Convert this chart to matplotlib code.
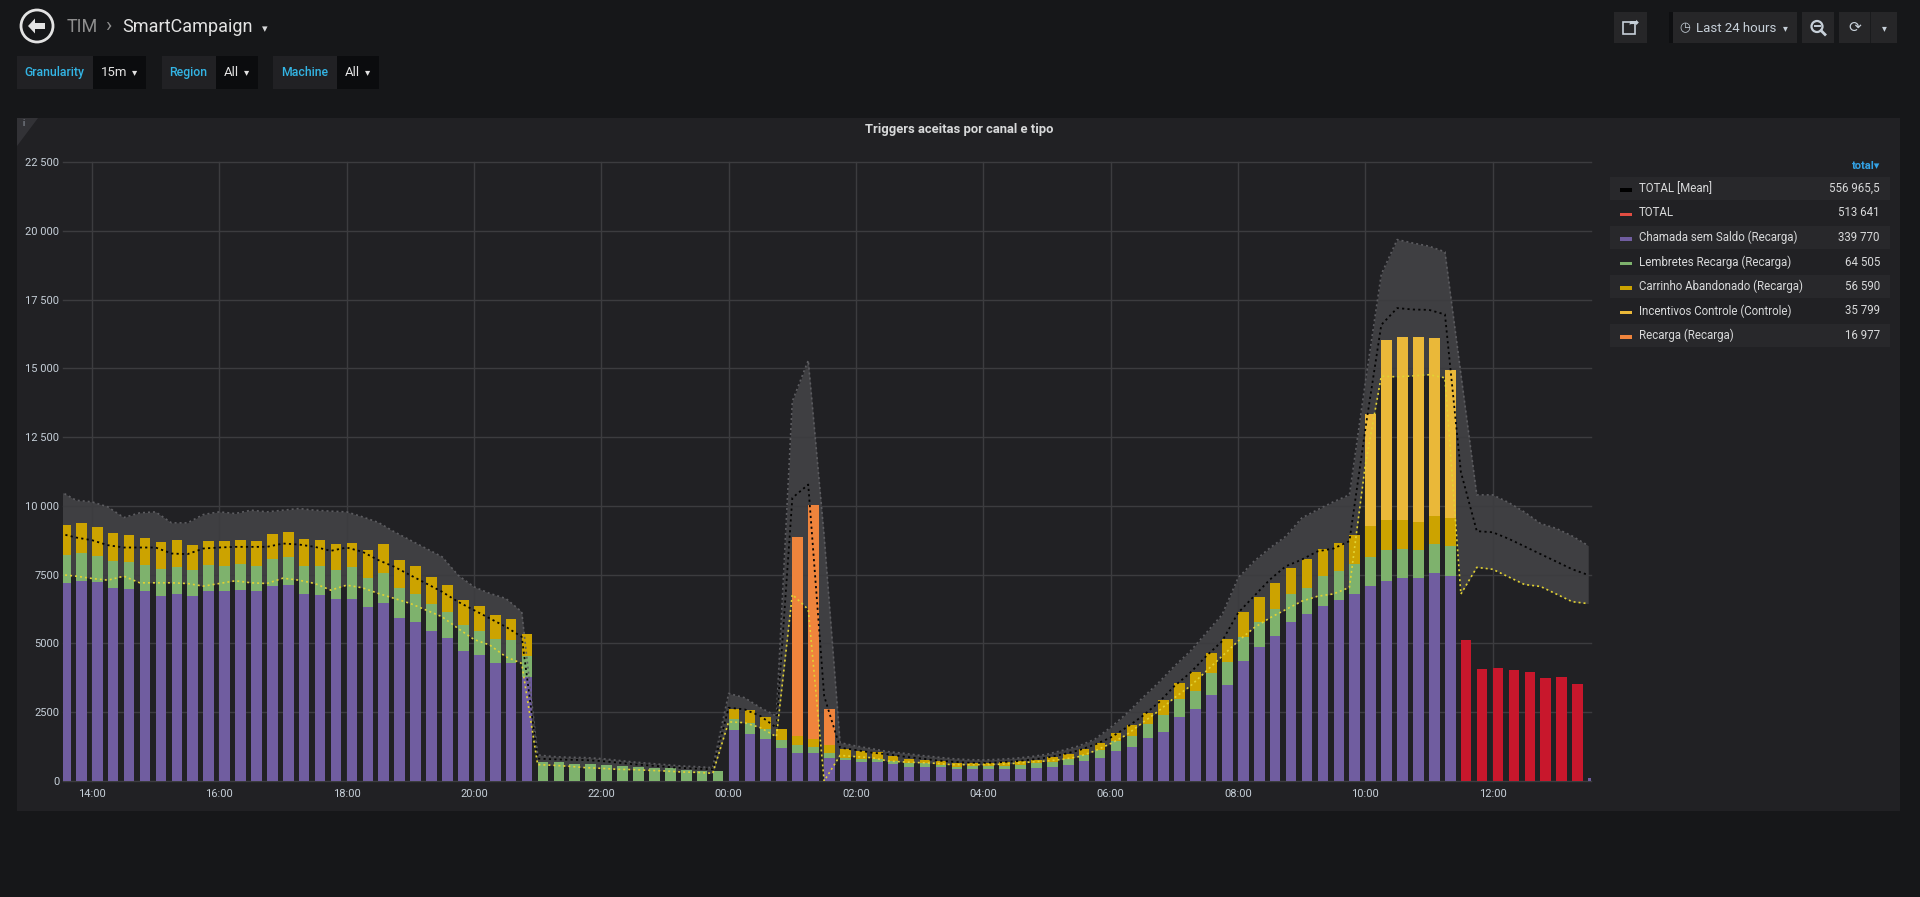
import numpy as np
import matplotlib
matplotlib.use("Agg")
import matplotlib.pyplot as plt
from matplotlib.patches import Rectangle, Polygon, Circle

plt.rcParams['font.family'] = ['Roboto', 'DejaVu Sans']

W, H = 1920, 897

# 15 minute buckets, first one at 13:30 (hours counted from midnight of day 1)
start_hour = 13.5
step = 0.25

chamada = [
    7179, 7276, 7216, 6998, 6974, 6913, 6707, 6792, 6731, 6889,
    6913, 6949, 6901, 7083, 7119, 6792, 6756, 6610, 6610, 6308,
    6465, 5920, 5775, 5436, 5194, 4722, 4564, 4286, 4286, 3765,
    0, 0, 0, 0, 0, 0, 0, 0, 0, 0,
    0, 0, 1852, 1719, 1513, 1186, 1029, 1017, 835, 763,
    690, 702, 630, 510, 510, 498, 425, 449, 425, 425,
    449, 473, 522, 595, 716, 825, 1085, 1240, 1561, 1791,
    2323, 2602, 3122, 3485, 4344, 4864, 5288, 5772, 6074, 6377,
    6565, 6810, 7099, 7280, 7391, 7391, 7557, 7446, 0, 0,
    0, 0, 0, 0, 0, 0, 100]
lembretes = [
    1042, 1005, 980, 993, 992, 944, 981, 969, 921, 968,
    920, 933, 932, 980, 1017, 1029, 1041, 1042, 1151, 1053,
    1102, 1102, 1029, 981, 956, 944, 872, 872, 823, 787,
    692, 680, 607, 631, 595, 546, 522, 473, 473, 388,
    352, 352, 385, 375, 364, 303, 279, 230, 194, 84,
    97, 85, 100, 133, 133, 97, 97, 97, 121, 121,
    134, 170, 182, 218, 243, 316, 375, 400, 496, 617,
    666, 665, 811, 847, 907, 932, 968, 1016, 944, 1065,
    1060, 1095, 1054, 1109, 1040, 998, 1040, 1082, 0, 0,
    0, 0, 0, 0, 0, 0, 0]
carrinho = [
    1089, 1102, 1030, 1041, 981, 981, 993, 992, 920, 872,
    896, 896, 908, 920, 932, 981, 981, 980, 908, 1053,
    1041, 1017, 1029, 992, 957, 908, 920, 883, 787, 787,
    0, 0, 0, 0, 0, 0, 0, 0, 0, 0,
    0, 0, 395, 485, 448, 388, 326, 291, 279, 315,
    303, 266, 182, 158, 134, 121, 121, 121, 121, 134,
    133, 134, 170, 158, 218, 243, 275, 387, 424, 520,
    556, 702, 726, 835, 896, 895, 956, 956, 1053, 992,
    1030, 1020, 1109, 1095, 1067, 1040, 1026, 1040, 0, 0,
    0, 0, 0, 0, 0, 0, 0]
incentivos = [0] * 82 + [4075, 6556, 6639, 6720, 6490, 5380] + [0] * 9
recarga = [0] * 46 + [7240, 8487, 1295] + [0] * 48
total = [0] * 88 + [5130, 4077, 4118, 4049, 3980, 3730, 3785, 3536, 0]

band_upper = [
    10533, 10206, 10146, 9964, 9577, 9746, 9782, 9383, 9383, 9686,
    9782, 9722, 9843, 9782, 9843, 9904, 9843, 9807, 9782, 9601,
    9395, 9056, 8753, 8451, 8148, 7482, 7058, 6816, 6635, 6150,
    947, 886, 862, 850, 813, 752, 692, 643, 595, 546,
    522, 485, 3184, 3027, 2664, 2361, 13802, 15291, 8900, 1392,
    1271, 1174, 1068, 1007, 934, 874, 813, 777, 765, 789,
    825, 886, 971, 1117, 1274, 1517, 1950, 2450, 3025, 3570,
    4175, 4719, 5385, 6050, 7381, 7986, 8470, 8894, 9559, 9862,
    10150, 10400, 14500, 18420, 19680, 19551, 19440, 19232, 14800, 10400,
    10400, 10122, 9775, 9360, 9179, 8902, 8555]
mean_line = [
    8995, 8850, 8753, 8572, 8487, 8487, 8487, 8269, 8245, 8451,
    8487, 8511, 8511, 8511, 8632, 8596, 8511, 8366, 8487, 8330,
    8027, 7785, 7482, 7179, 6877, 6514, 6211, 5908, 5605, 5242,
    813, 789, 770, 760, 725, 670, 610, 565, 520, 475,
    450, 425, 2664, 2603, 2361, 1937, 10291, 10775, 3087, 1211,
    1126, 1029, 971, 886, 825, 752, 704, 667, 655, 680,
    716, 777, 850, 971, 1117, 1323, 1580, 1950, 2360, 2844,
    3449, 3933, 4538, 5082, 6111, 6716, 7321, 7805, 8047, 8349,
    8450, 8720, 12800, 16580, 17190, 17138, 17125, 16958, 11232, 9082,
    9041, 8805, 8528, 8250, 7973, 7696, 7488]
band_lower = [
    7506, 7446, 7361, 7300, 7446, 7204, 7204, 7204, 7179, 7083,
    7179, 7276, 7204, 7179, 7373, 7300, 7179, 6937, 7119, 7022,
    6816, 6635, 6453, 6211, 5969, 5545, 5145, 4940, 4516, 4274,
    595, 570, 534, 485, 461, 425, 413, 388, 364, 328,
    316, 279, 2150, 2120, 1937, 1610, 6780, 6235, 0, 932,
    884, 847, 728, 692, 667, 643, 595, 595, 595, 607,
    643, 692, 728, 789, 886, 1092, 1360, 1680, 2118, 2541,
    3025, 3449, 3993, 4538, 5082, 5566, 5929, 6232, 6534, 6716,
    6800, 7040, 11500, 14715, 14690, 14726, 14767, 14656, 6794, 7765,
    7696, 7418, 7141, 7072, 6794, 6517, 6448]

x_ticks = list(range(14, 38, 2))
x_labels = ['14:00', '16:00', '18:00', '20:00', '22:00', '00:00',
            '02:00', '04:00', '06:00', '08:00', '10:00', '12:00']
y_ticks = list(range(0, 22501, 2500))
y_labels = ['0', '2500', '5000', '7500', '10 000', '12 500',
            '15 000', '17 500', '20 000', '22 500']

legend_names = ['TOTAL [Mean]', 'TOTAL', 'Chamada sem Saldo (Recarga)',
                'Lembretes Recarga (Recarga)', 'Carrinho Abandonado (Recarga)',
                'Incentivos Controle (Controle)', 'Recarga (Recarga)']
legend_totals = ['556 965,5', '513 641', '339 770', '64 505', '56 590',
                 '35 799', '16 977']
legend_colors = ['#000000', '#e24d42', '#705da0', '#7eb26d', '#cca300',
                 '#eab839', '#ef843c']

t = start_hour + step * np.arange(len(chamada))

fig = plt.figure(figsize=(W / 100, H / 100), dpi=100, facecolor='#161719')

# background layer in pixel coordinates
bg = fig.add_axes([0, 0, 1, 1], zorder=0)
bg.set_xlim(0, W)
bg.set_ylim(H, 0)
bg.axis('off')


def box(x0, y0, x1, y1, color, **kw):
    bg.add_patch(Rectangle((x0, y0), x1 - x0, y1 - y0, facecolor=color,
                           edgecolor='none', **kw))


# header
bg.add_patch(Circle((37, 26), 16, fill=False, ec='#e3e3e3', lw=2))
bg.add_patch(Polygon([(28, 26), (35, 18.5), (35, 23), (45, 23), (45, 29),
                      (35, 29), (35, 33.5)], fc='#e3e3e3', ec='none'))
bg.text(67, 27, 'TIM', color='#8e8e8e', fontsize=13, va='center')
bg.text(108, 26, '›', color='#8e8e8e', fontsize=15, va='center', ha='center')
bg.text(122, 27, 'SmartCampaign', color='#e3e3e3', fontsize=13, va='center')
bg.text(265, 29, '▾', color='#d8d9da', fontsize=8, va='center', ha='center')

# template variables
for lx0, lx1, vx1, lab, val in [(16.5, 93, 145.5, 'Granularity', '15m'),
                                (161.5, 215.5, 257.5, 'Region', 'All'),
                                (273, 337, 378.5, 'Machine', 'All')]:
    box(lx0, 56, lx1, 89, '#212124')
    box(lx1, 56, vx1, 89, '#0b0c0e')
    bg.text((lx0 + lx1) / 2, 72.5, lab, color='#33b5e5', fontsize=8.8,
            fontweight='medium', ha='center', va='center')
    bg.text(lx1 + 8, 72.5, val, color='#e3e3e3', fontsize=9.5, va='center')
    bg.text(vx1 - 11, 72, '▾', color='#e3e3e3', fontsize=7.5, va='center',
            ha='center')

# top right buttons
box(1614, 12, 1647, 43, '#262628')
bg.add_patch(Rectangle((1623, 22), 12, 12, fill=False, ec='#c7d0d9', lw=1.2))
bg.text(1634, 23, '➦', color='#c7d0d9', fontsize=9, ha='center', va='center')
box(1669, 12, 1673, 43, '#0e0f11')
box(1673, 12, 1797, 43, '#262628')
bg.text(1685, 28, '◷', color='#c7d0d9', fontsize=9, ha='center', va='center')
bg.text(1696, 28, 'Last 24 hours', color='#c7d0d9', fontsize=9.5, va='center')
bg.text(1785, 28, '▾', color='#c7d0d9', fontsize=7, ha='center', va='center')
box(1802, 12, 1834, 43, '#262628')
bg.add_patch(Circle((1817, 26.5), 5.5, fill=False, ec='#c7d0d9', lw=1.6))
bg.plot([1821, 1825], [30.5, 34.5], color='#c7d0d9', lw=2)
bg.plot([1814.5, 1819.5], [26.5, 26.5], color='#c7d0d9', lw=1.4)
box(1839, 12, 1897, 43, '#262628')
box(1870, 12, 1871, 43, '#1a1b1d')
bg.text(1855, 28, '⟳', color='#c7d0d9', fontsize=11, ha='center', va='center')
bg.text(1884, 28, '▾', color='#c7d0d9', fontsize=7, ha='center', va='center')

# panel
box(17, 118, 1900, 811, '#212124')
bg.add_patch(Polygon([(17, 118), (38, 118), (17, 146)], fc='#323236', ec='none'))
bg.text(23, 124, 'i', color='#9fa7b3', fontsize=6.5, ha='center', va='center')
bg.text(959, 130, 'Triggers aceitas por canal e tipo', color='#d8d9da',
        fontsize=9.4, fontweight='bold', ha='center', va='center')

# legend table
bg.text(1880, 166, 'total▾', color='#33a2e5', fontsize=8, fontweight='bold',
        ha='right', va='center')
for k, (name, tot, col) in enumerate(zip(legend_names, legend_totals, legend_colors)):
    yc = 188.5 + 24.5 * k
    if k % 2 == 0:
        box(1610, yc - 11.5, 1890, yc + 11.5, '#28282b')
    box(1620, yc, 1632, yc + 3.5, col)
    bg.text(1639, yc, name, color='#d8d9da', fontsize=8.3, va='center')
    bg.text(1880, yc, tot, color='#d8d9da', fontsize=8.3, va='center', ha='right')

# chart
x0, x1, y0, y1 = 63.3, 1591.4, 162, 781
ax = fig.add_axes([x0 / W, 1 - y1 / H, (x1 - x0) / W, (y1 - y0) / H], zorder=1)
ax.set_facecolor('none')
for s in ax.spines.values():
    s.set_visible(False)
ax.set_xlim(13.55, 37.55)
ax.set_ylim(0, 22500)

grid_c = '#3c3c3f'
for v in y_ticks:
    ax.axhline(v, color=grid_c, lw=1, zorder=1, clip_on=False)
for h in x_ticks:
    ax.axvline(h, color=grid_c, lw=1, zorder=1, clip_on=False)

ax.fill_between(t, band_lower, band_upper, color='#3f3f42', lw=0, zorder=0.5)

bw = step * 2 / 3
bottom = np.zeros(len(t))
for vals, col in [(chamada, '#705da0'), (lembretes, '#7eb26d'),
                  (carrinho, '#cca300'), (incentivos, '#eab839'),
                  (recarga, '#ef843c'), (total, '#c8172c')]:
    vals = np.array(vals, dtype=float)
    ax.bar(t, vals, width=bw, align='edge', bottom=bottom, color=col,
           lw=0, zorder=2)
    bottom = bottom + vals

ax.plot(t, band_upper, color='#5d5d61', lw=1.2, ls=(0, (1.2, 1.8)), zorder=3)
ax.plot(t, mean_line, color='#050505', lw=1.3, ls=(0, (1.2, 1.8)), zorder=3)
ax.plot(t, band_lower, color='#e2d232', lw=1.2, ls=(0, (1.2, 1.8)), zorder=3)

ax.set_xticks(x_ticks, x_labels)
ax.set_yticks(y_ticks, y_labels)
ax.tick_params(axis='both', length=0, colors='#c7d0d9', labelsize=8)
ax.tick_params(axis='x', pad=6)
ax.tick_params(axis='y', pad=3)

fig.savefig('out.png', dpi=100, facecolor=fig.get_facecolor())
